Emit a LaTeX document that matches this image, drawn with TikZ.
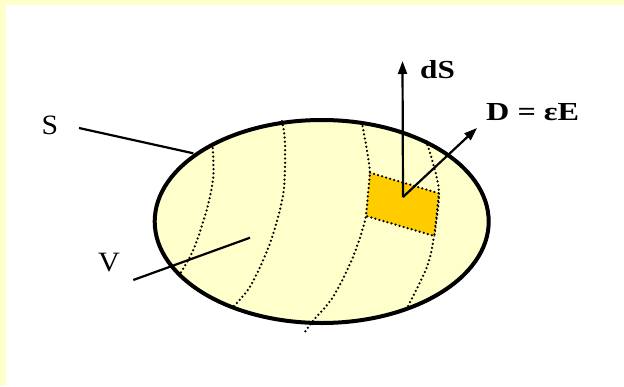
\documentclass[tikz,border=0pt]{standalone}
\usepackage{fontspec}
\setmainfont{Liberation Serif}
\definecolor{paleyel}{HTML}{FFFFCC}
\definecolor{gold}{HTML}{FFCC00}
\usetikzlibrary{arrows.meta,shapes.geometric}
\tikzset{lbl/.style={font=\fontsize{28}{32}\selectfont,inner sep=0pt},blbl/.style={font=\fontsize{26}{30}\selectfont\bfseries,inner sep=0pt,anchor=west},vec/.style={-{Triangle[length=13pt,width=9pt]},line width=2.2pt},lead/.style={line width=2.2pt},merid/.style={line width=2.5pt,dash pattern=on 0pt off 4.2pt,line cap=round}}
\begin{document}
\begin{tikzpicture}[x=1pt,y=-1pt,vol/.style={ellipse,draw,line width=4pt,fill=paleyel,inner sep=0pt,minimum width=334pt,minimum height=203pt}]
\useasboundingbox (0,0) rectangle (624,386);
\fill[white] (0,0) rectangle (624,386);
\fill[paleyel] (0,0) rectangle (624,5);
\fill[paleyel] (0,0) rectangle (5.5,386);
\node[vol] (vol) at (321.7,221.5) {};
\draw[merid] plot[smooth] coordinates {(212.5,144) (213.3,176.7) (206.7,210) (193.3,250) (179.3,275)};
\draw[merid] plot[smooth] coordinates {(282,121) (285,143) (283.3,193.3) (270,243.3) (250,286.7) (231,309)};
\draw[merid] plot[smooth] coordinates {(361.7,122) (370,173) (366,216) (353,257) (333,297) (312,322) (305,332)};
\draw[merid] plot[smooth] coordinates {(426,141) (433,163) (439,193) (434,236) (427,267) (406,310)};
\filldraw[fill=gold,merid] (370,172.7) -- (439,193.3) -- (434.3,236) -- (366,216) -- cycle;
\coordinate (base) at (403,197);
\coordinate (dsTip) at (402.5,61);
\coordinate (dTip) at (477,128);
\draw[vec] (base) -- (dsTip);
\draw[vec] (base) -- (dTip);
\node[blbl] (ds) at (420,70) {\scalebox{1.2}[1]{dS}};
\node[blbl] (dlbl) at (486,112) {\scalebox{1.24}[1]{D = εE}};
\node[lbl] (sLbl) at (50,125) {\scalebox{1.06}[1]{S}};
\node[lbl] (vLbl) at (109,263) {\scalebox{1.08}[1]{V}};
\coordinate (sA) at (79,128);
\coordinate (sB) at (193.3,153.3);
\coordinate (vA) at (133.3,280);
\coordinate (vB) at (250,237.7);
\draw[lead] (sA) -- (sB);
\draw[lead] (vA) -- (vB);
\end{tikzpicture}
\end{document}
